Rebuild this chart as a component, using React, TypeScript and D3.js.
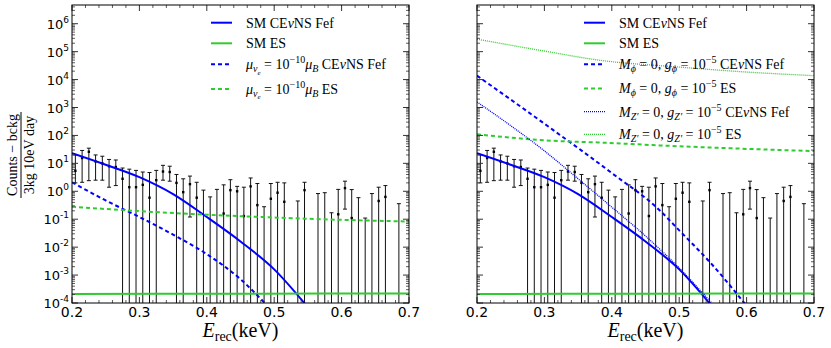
import React from 'react';
import * as d3 from 'd3';

// ---------------- data ----------------
const xTickValues = [0.2, 0.3, 0.4, 0.5, 0.6, 0.7];
const yTickExponents = [-4, -3, -2, -1, 0, 1, 2, 3, 4, 5, 6];

// SM CEvNS Fef
const smCevnsE = [0.2, 0.25, 0.3, 0.35, 0.4, 0.45, 0.5, 0.55];
const smCevns = [23, 8.9, 3.2, 0.79, 0.12, 0.016, 0.0016, 0.00007];
// SM ES
const smEsE = [0.2, 0.45, 0.7];
const smEs = [0.00021, 0.000215, 0.00022];
// magnetic moment
const muCevnsE = [0.2, 0.25, 0.3, 0.35, 0.4, 0.45, 0.49];
const muCevns = [2.1, 0.47, 0.12, 0.028, 0.0056, 0.00071, 0.000079];
const muEsE = [0.2, 0.3, 0.4, 0.5, 0.6, 0.7];
const muEs = [0.28, 0.195, 0.145, 0.115, 0.095, 0.083];
// scalar phi
const phiCevnsE = [0.2, 0.3, 0.4, 0.47, 0.5, 0.55, 0.6];
const phiCevns = [13800, 263, 4.5, 0.22, 0.04, 0.0022, 0.000079];
const phiEsE = [0.2, 0.27, 0.32, 0.38, 0.47, 0.6, 0.7];
const phiEs = [110, 76, 63, 56, 44, 33, 27.5];
// vector Z'
const zpCevnsE = [0.2, 0.25, 0.3, 0.35, 0.4, 0.45, 0.5, 0.55];
const zpCevns = [1580, 224, 28, 2.8, 0.27, 0.025, 0.0018, 0.000089];
const zpEsE = [0.2, 0.3, 0.38, 0.5, 0.6, 0.7];
const zpEs = [280000, 105000, 50000, 28000, 18600, 13800];

// data points (null value = off chart; null low = bar runs below the axis)
const binE = [0.205, 0.215, 0.225, 0.235, 0.245, 0.255, 0.265, 0.275, 0.285, 0.295,
  0.305, 0.315, 0.325, 0.335, 0.345, 0.355, 0.365, 0.375, 0.385, 0.395,
  0.405, 0.415, 0.425, 0.435, 0.445, 0.455, 0.465, 0.475, 0.485, 0.495,
  0.505, 0.515, 0.535, 0.545, 0.565, 0.575, 0.585, 0.595, 0.605, 0.615,
  0.625, 0.635, 0.645, 0.655, 0.665, 0.685];
const binValue = [5.4, 15.5, 26, 11.7, 10, 7.9, 7.4, 2.8, 1.4, 1.4,
  1.7, 0.59, 2.5, 5.1, 4.9, 2.0, 0.93, 1.8, 0.59, null,
  null, null, 0.16, 1.1, 1.0, 0.13, 1.5, 0.32, null, 0.54,
  0.89, 0.42, null, 1.1, null, null, null, 0.15, 1.3, 0.11,
  null, null, null, 0.45, 0.63, null];
const binHigh = [20, 29, 35, 20, 18, 13.8, 13.2, 6.8, 6.2, 5.6,
  4.9, 4.7, 5.6, 8.5, 7.9, 4.0, 2.8, 3.5, 2.1, 1.1,
  0.63, 1.17, 1.7, 2.6, 1.5, 1.4, 3.0, 1.9, 0.28, 1.9,
  2.1, 2.0, 0.45, 2.1, 0.83, 0.89, 0.17, 1.17, 2.3, 1.15,
  0.59, 0.11, 0.83, 1.4, 1.6, 0.36];
const binLow = [2.0, 2.1, 2.4, 2.5, 2.5, 1.4, 1.6, null, null, null,
  null, null, null, 2.5, 2.3, null, null, 0.12, null, null,
  null, null, null, null, null, null, null, null, null, null,
  null, null, null, null, null, null, null, null, 0.23, null,
  null, null, null, null, null, null];

// ---------------- layout ----------------
const W = 831, H = 348;
const yTop = 5, yBot = 303;
const BLUE = '#0000ff';
const GREEN = '#2ecc2e';
const SERIF = 'Liberation Serif';
const SANS = 'DejaVu Sans';

type Seg = { t: string; i?: boolean; s?: number; f?: number };

function Rich({ x, y, segs, size, anchor }: { x: number; y: number; segs: Seg[]; size: number; anchor?: string }) {
  let cur = 0;
  return (
    <text x={x} y={y} fontFamily={SERIF} fontSize={size} textAnchor={anchor || 'start'}
      style={{ whiteSpace: 'pre', fontFamily: SERIF }} fill="#000">
      {segs.map((g, k) => {
        const target = g.s ?? 0;
        const dy = target - cur;
        cur = target;
        return (
          <tspan key={k} dy={dy} fontFamily={SERIF} fontStyle={g.i ? 'italic' : 'normal'} fontSize={g.f ?? size}>{g.t}</tspan>
        );
      })}
    </text>
  );
}

type Curve = { e: number[]; v: number[]; color: string; width: number; dash?: string };
type LegendItem = { curve: Curve; segs: Seg[]; y: number };

const cevns: Seg[] = [{ t: ' CE' }, { t: 'ν', i: true }, { t: 'NS Fef' }];

const smC: Curve = { e: smCevnsE, v: smCevns, color: BLUE, width: 2 };
const smE: Curve = { e: smEsE, v: smEs, color: GREEN, width: 2 };
const muC: Curve = { e: muCevnsE, v: muCevns, color: BLUE, width: 2, dash: '4,3' };
const muE: Curve = { e: muEsE, v: muEs, color: GREEN, width: 2, dash: '4,3' };
const phC: Curve = { e: phiCevnsE, v: phiCevns, color: BLUE, width: 2, dash: '4,3' };
const phE: Curve = { e: phiEsE, v: phiEs, color: GREEN, width: 2, dash: '4,3' };
const zpC: Curve = { e: zpCevnsE, v: zpCevns, color: BLUE, width: 1.3, dash: '1,1' };
const zpE: Curve = { e: zpEsE, v: zpEs, color: GREEN, width: 1.3, dash: '1,1' };

const muLabel = (tail: Seg[]): Seg[] => [
  { t: 'μ', i: true }, { t: 'ν', i: true, s: 3, f: 10 }, { t: 'e', i: true, s: 5.5, f: 7 },
  { t: ' = 10' }, { t: '−10', s: -6, f: 10 }, { t: 'μ', i: true }, { t: 'B', i: true, s: 3, f: 10 }, ...tail,
];
const phiLabel = (tail: Seg[]): Seg[] => [
  { t: 'M', i: true }, { t: 'ϕ', i: true, s: 3, f: 10 }, { t: ' = 0, ' }, { t: 'g', i: true },
  { t: 'ϕ', i: true, s: 3, f: 10 }, { t: ' = 10' }, { t: '−5', s: -6, f: 10 }, ...tail,
];
const zpLabel = (tail: Seg[]): Seg[] => [
  { t: 'M', i: true }, { t: 'Z′', i: true, s: 3, f: 10 }, { t: ' = 0, ' }, { t: 'g', i: true },
  { t: 'Z′', i: true, s: 3, f: 10 }, { t: ' = 10' }, { t: '−5', s: -6, f: 10 }, ...tail,
];

const leftLegend: LegendItem[] = [
  { curve: smC, segs: [{ t: 'SM' }, ...cevns], y: 22.7 },
  { curve: smE, segs: [{ t: 'SM ES' }], y: 43.3 },
  { curve: muC, segs: muLabel(cevns), y: 64.3 },
  { curve: muE, segs: muLabel([{ t: ' ES' }]), y: 89 },
];
const rightLegend: LegendItem[] = [
  { curve: smC, segs: [{ t: 'SM' }, ...cevns], y: 22.7 },
  { curve: smE, segs: [{ t: 'SM ES' }], y: 43.3 },
  { curve: phC, segs: phiLabel(cevns), y: 64.3 },
  { curve: phE, segs: phiLabel([{ t: ' ES' }]), y: 88.5 },
  { curve: zpC, segs: zpLabel(cevns), y: 111.7 },
  { curve: zpE, segs: zpLabel([{ t: ' ES' }]), y: 134.3 },
];

function Panel({ id, x0, x1, yLabels, curves, legend, legX }: {
  id: string; x0: number; x1: number; yLabels: boolean; curves: Curve[]; legend: LegendItem[]; legX: number;
}) {
  const x = d3.scaleLinear().domain([0.2, 0.7]).range([x0, x1]);
  const y = d3.scaleLog().domain([1e-4, 4.68e6]).range([yBot, yTop]);
  const line = d3.line<[number, number]>().x(d => x(d[0])).y(d => y(d[1])).curve(d3.curveMonotoneX);

  const minorX = d3.range(0, 26).map(k => 0.2 + k * 0.02).filter(v => Math.abs(v * 10 - Math.round(v * 10)) > 1e-6);
  const minorY: number[] = [];
  yTickExponents.forEach(k => { for (let m = 2; m <= 9; m++) { const v = m * Math.pow(10, k); if (v < 4.68e6) minorY.push(v); } });

  const tick = '#333';
  return (
    <g>
      <defs>
        <clipPath id={id}><rect x={x0} y={yTop} width={x1 - x0} height={yBot - yTop} /></clipPath>
      </defs>
      <g clipPath={`url(#${id})`}>
        {binE.map((e, k) => {
          const cx = x(e);
          const top = y(binHigh[k]);
          const lo = binLow[k];
          const bot = lo == null ? yBot + 5 : y(lo);
          const v = binValue[k];
          return (
            <g key={k}>
              <line x1={cx} x2={cx} y1={top} y2={bot} stroke="#111" strokeWidth={1} />
              <line x1={cx - 2} x2={cx + 2} y1={top} y2={top} stroke="#111" strokeWidth={1} />
              {lo != null && <line x1={cx - 2} x2={cx + 2} y1={bot} y2={bot} stroke="#111" strokeWidth={1} />}
              {v != null && <rect x={cx - 1.2} y={y(v) - 1.2} width={2.4} height={2.4} fill="#000" />}
            </g>
          );
        })}
        {curves.map((c, k) => (
          <path key={k} d={line(c.e.map((e, j) => [e, c.v[j]] as [number, number])) || ''}
            fill="none" stroke={c.color} strokeWidth={c.width} strokeDasharray={c.dash} />
        ))}
      </g>
      {/* legend */}
      {legend.map((it, k) => (
        <g key={k}>
          <line x1={legX} x2={legX + 21} y1={it.y} y2={it.y} stroke={it.curve.color}
            strokeWidth={it.curve.width} strokeDasharray={it.curve.dash} />
          <Rich x={legX + 35} y={it.y + 4.8} segs={it.segs} size={14} />
        </g>
      ))}
      {/* ticks */}
      {xTickValues.map(v => (
        <g key={'xt' + v}>
          <line x1={x(v)} x2={x(v)} y1={yBot} y2={yBot - 6} stroke={tick} />
          <line x1={x(v)} x2={x(v)} y1={yTop} y2={yTop + 6} stroke={tick} />
          <text x={x(v)} y={317} textAnchor="middle" fontFamily={SANS} fontSize={14} fill="#000">{v.toFixed(1)}</text>
        </g>
      ))}
      {minorX.map(v => (
        <g key={'xm' + v}>
          <line x1={x(v)} x2={x(v)} y1={yBot} y2={yBot - 3} stroke={tick} strokeWidth={0.8} />
          <line x1={x(v)} x2={x(v)} y1={yTop} y2={yTop + 3} stroke={tick} strokeWidth={0.8} />
        </g>
      ))}
      {yTickExponents.map(k => {
        const yy = y(Math.pow(10, k));
        return (
          <g key={'yt' + k}>
            <line x1={x0} x2={x0 + 6} y1={yy} y2={yy} stroke={tick} />
            <line x1={x1} x2={x1 - 6} y1={yy} y2={yy} stroke={tick} />
            {yLabels && (
              <text x={x0 - 3} y={yy + 5} textAnchor="end" fontFamily={SANS} fontSize={13} fill="#000">
                <tspan>10</tspan><tspan dy={-6} fontSize={9}>{String(k)}</tspan>
              </text>
            )}
          </g>
        );
      })}
      {minorY.map((v, k) => (
        <g key={'ym' + k}>
          <line x1={x0} x2={x0 + 3} y1={y(v)} y2={y(v)} stroke={tick} strokeWidth={0.8} />
          <line x1={x1} x2={x1 - 3} y1={y(v)} y2={y(v)} stroke={tick} strokeWidth={0.8} />
        </g>
      ))}
      <rect x={x0} y={yTop} width={x1 - x0} height={yBot - yTop} fill="none" stroke="#000" strokeWidth={1} />
      {/* x label */}
      <Rich x={(x0 + x1) / 2} y={337} anchor="middle" size={20}
        segs={[{ t: 'E', i: true }, { t: 'rec', s: 4, f: 14 }, { t: '(keV)', s: 0 }]} />
    </g>
  );
}

export default function App() {
  return (
    <svg width={W} height={H} style={{ position: 'absolute', left: 0, top: 0, background: '#fff' }}>
      <rect x={0} y={0} width={W} height={H} fill="#fff" />
      <Panel id="cl" x0={72} x1={409} yLabels={true} curves={[smC, smE, muC, muE]} legend={leftLegend} legX={211} />
      <Panel id="cr" x0={477} x1={814} yLabels={false} curves={[smC, smE, phC, phE, zpC, zpE]} legend={rightLegend} legX={584} />
      {/* y label */}
      <g transform="translate(21,155) rotate(-90)">
        <text x={0} y={-4} textAnchor="middle" fontFamily={SERIF} fontSize={14} style={{ whiteSpace: 'pre' }}>Counts − bckg</text>
        <line x1={-43} x2={43} y1={0} y2={0} stroke="#000" strokeWidth={1} />
        <text x={0} y={13} textAnchor="middle" fontFamily={SERIF} fontSize={14} style={{ whiteSpace: 'pre' }}>3kg 10eV day</text>
      </g>
    </svg>
  );
}
